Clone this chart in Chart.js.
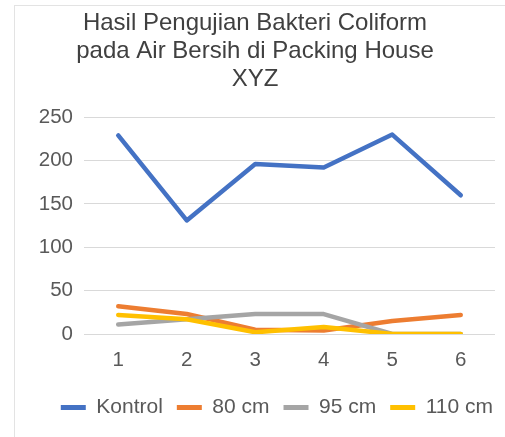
<!DOCTYPE html>
<html>
<head>
<meta charset="utf-8">
<script src="https://cdn.jsdelivr.net/npm/chart.js@4"></script>
<style>
  html, body { margin: 0; padding: 0; background: #fff; overflow: hidden; }
  #box {
    position: absolute; left: 14px; top: 5px; width: 504px; height: 432px;
    border-left: 1px solid #e3e3e3; border-top: 1px solid #e3e3e3;
  }
  #box canvas { position: absolute; left: 0; top: 0; }
</style>
</head>
<body>
<div id="box"><canvas id="chart" width="504" height="432"></canvas></div>
<script>
// Data
const labels = ['1', '2', '3', '4', '5', '6'];
const kontrol = [229, 131, 196, 192, 230, 160];
const cm80 = [32, 23, 5, 4, 15, 22];
const cm95 = [11, 17, 23, 23, 0, 0];
const cm110 = [22, 17, 2, 8, 0, 0];
const titleLines = ['Hasil Pengujian Bakteri Coliform', 'pada Air Bersih di Packing House', 'XYZ'];

const fontFam = '"Liberation Sans", Arial, sans-serif';

function serie(label, data, color, order) {
    return {
        label: label,
        data: data,
        borderColor: color,
        backgroundColor: color,
        borderWidth: 4.5,
        pointRadius: 0,
        tension: 0,
        borderCapStyle: 'round',
        borderJoinStyle: 'round',
        order: order
    };
}

// legenda um pouco à direita, como no original
const shiftLegend = {
    id: 'shiftLegend',
    afterLayout(chart) {
        chart.legend.left += 12;
        chart.legend.right += 12;
    }
};

const ctx = document.getElementById('chart').getContext('2d');
new Chart(ctx, {
    type: 'line',
    data: {
        labels: labels,
        datasets: [
            serie('Kontrol', kontrol, '#4472C4', 4),
            serie('80 cm', cm80, '#ED7D31', 3),
            serie('95 cm', cm95, '#A5A5A5', 2),
            serie('110 cm', cm110, '#FFC000', 1)
        ]
    },
    plugins: [shiftLegend],
    options: {
        responsive: false,
        animation: false,
        layout: { padding: { left: 0, right: 24, top: 0, bottom: 10 } },
        plugins: {
            title: {
                display: true,
                text: titleLines,
                color: '#404040',
                font: { family: fontFam, size: 24, weight: 'normal', lineHeight: 1.17 },
                padding: { top: 3, bottom: 24 }
            },
            legend: {
                position: 'bottom',
                align: 'end',
                labels: {
                    color: '#595959',
                    font: { family: fontFam, size: 21 },
                    boxWidth: 25,
                    boxHeight: 5,
                    padding: 14,
                    sort: (a, b) => a.datasetIndex - b.datasetIndex,
                    generateLabels: function (chart) {
                        const items = Chart.defaults.plugins.legend.labels.generateLabels(chart);
                        items.forEach(it => { it.lineWidth = 0; });
                        return items;
                    }
                }
            },
            tooltip: { enabled: false }
        },
        scales: {
            x: {
                offset: true,
                grid: { display: false },
                border: { display: false },
                ticks: {
                    color: '#595959',
                    font: { family: fontFam, size: 20.5, lineHeight: 1.0 },
                    padding: 8
                },
                afterFit: function (scale) { scale.height = 49; }
            },
            y: {
                min: 0,
                max: 250,
                border: { display: false },
                grid: { color: '#d9d9d9', lineWidth: 1, drawTicks: false },
                ticks: {
                    stepSize: 50,
                    color: '#595959',
                    font: { family: fontFam, size: 20.5 },
                    padding: 11
                },
                afterFit: function (scale) { scale.width = 69; }
            }
        }
    }
});
</script>
</body>
</html>
